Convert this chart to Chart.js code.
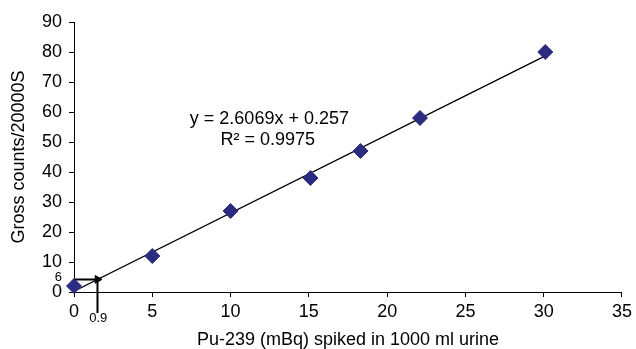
<!DOCTYPE html>
<html>
<head>
<meta charset="utf-8">
<script src="https://cdn.jsdelivr.net/npm/chart.js@4/dist/chart.umd.min.js"></script>
<style>
  html, body { margin: 0; padding: 0; background: #fff; }
  #wrap { width: 636px; height: 349px; position: relative; }
</style>
</head>
<body>
<div id="wrap"><canvas id="c"></canvas></div>
<script>
// Data
const spikedActivity = [0, 5, 10, 15.1, 18.3, 22.1, 30.1];   // Pu-239 (mBq)
const grossCounts    = [2, 12, 27, 38, 47, 58, 80];          // counts / 20000 s
const trendX = [0, 30.1];
const trendY = [0.257, 78.72];
const arrowX = [0, 1.5, 1.5];
const arrowY = [4.2, 4.2, -7.0];
const xTicks = [0, 5, 10, 15, 20, 25, 30, 35];
const yTicks = [0, 10, 20, 30, 40, 50, 60, 70, 80, 90];
const equationText = 'y = 2.6069x + 0.257';
const r2Text = 'R\u00B2 = 0.9975';
const markLabelY = '6';
const markLabelX = '0.9';

const FONT = "'Liberation Sans', Arial, Helvetica, sans-serif";
const MARK = '#2B2B80';

const annotations = {
  id: 'annotations',
  afterDatasetsDraw(chart) {
    const { ctx, scales: { x, y } } = chart;
    ctx.save();
    ctx.fillStyle = '#000';
    ctx.textBaseline = 'middle';
    ctx.font = '18px ' + FONT;
    ctx.textAlign = 'center';
    ctx.fillText(equationText, x.getPixelForValue(12.48), y.getPixelForValue(57.7));
    ctx.fillText(r2Text, x.getPixelForValue(12.38), y.getPixelForValue(50.7));
    ctx.font = '13px ' + FONT;
    ctx.fillText(markLabelY, x.getPixelForValue(-1.0), y.getPixelForValue(4.8));
    ctx.fillText(markLabelX, x.getPixelForValue(1.55), y.getPixelForValue(-8.7));
    ctx.restore();
  }
};

new Chart(document.getElementById('c'), {
  type: 'scatter',
  data: {
    datasets: [
      {
        type: 'line',
        data: trendX.map((v, i) => ({ x: v, y: trendY[i] })),
        borderColor: '#000',
        borderWidth: 1.3,
        pointRadius: 0,
        fill: false,
        order: 2
      },
      {
        type: 'line',
        data: arrowX.map((v, i) => ({ x: v, y: arrowY[i] })),
        borderColor: '#000',
        borderWidth: 2,
        pointRadius: [0, 4.5, 4.5],
        pointStyle: 'triangle',
        rotation: [0, 90, 180],
        pointBackgroundColor: '#000',
        pointBorderColor: '#000',
        pointBorderWidth: 1,
        fill: false,
        clip: false,
        order: 3
      },
      {
        data: spikedActivity.map((v, i) => ({ x: v, y: grossCounts[i] })),
        pointStyle: 'rectRot',
        pointRadius: 7.5,
        pointHoverRadius: 7.5,
        backgroundColor: MARK,
        borderColor: MARK,
        borderWidth: 1,
        clip: false,
        order: 1
      }
    ]
  },
  options: {
    responsive: true,
    maintainAspectRatio: false,
    animation: false,
    events: [],
    layout: { padding: { top: 22, right: 8, left: 0, bottom: 0 } },
    plugins: { legend: { display: false }, tooltip: { enabled: false } },
    scales: {
      x: {
        type: 'linear',
        min: 0, max: 35,
        afterBuildTicks: s => { s.ticks = xTicks.map(v => ({ value: v })); },
        afterFit: s => { s.height = 57; },
        grid: { display: true, drawOnChartArea: false, drawTicks: true, tickLength: 5, color: '#000', lineWidth: 1 },
        border: { display: true, color: '#000', width: 1 },
        ticks: { color: '#000', font: { family: FONT, size: 18 }, padding: 4, maxRotation: 0 },
        title: { display: true, text: 'Pu-239 (mBq) spiked in 1000 ml urine', color: '#000',
                 font: { family: FONT, size: 18, lineHeight: 1.0 }, padding: { top: 0, bottom: 0 } }
      },
      y: {
        type: 'linear',
        min: 0, max: 90,
        afterBuildTicks: s => { s.ticks = yTicks.map(v => ({ value: v })); },
        afterFit: s => { s.width = 74; },
        grid: { display: true, drawOnChartArea: false, drawTicks: true, tickLength: 5, color: '#000', lineWidth: 1 },
        border: { display: true, color: '#000', width: 1 },
        ticks: { color: '#000', font: { family: FONT, size: 18 }, padding: 7 },
        title: { display: true, text: 'Gross counts/20000S', color: '#000',
                 font: { family: FONT, size: 18, lineHeight: 1.0 }, padding: { top: 10, bottom: 0 } }
      }
    }
  },
  plugins: [annotations]
});
</script>
</body>
</html>
